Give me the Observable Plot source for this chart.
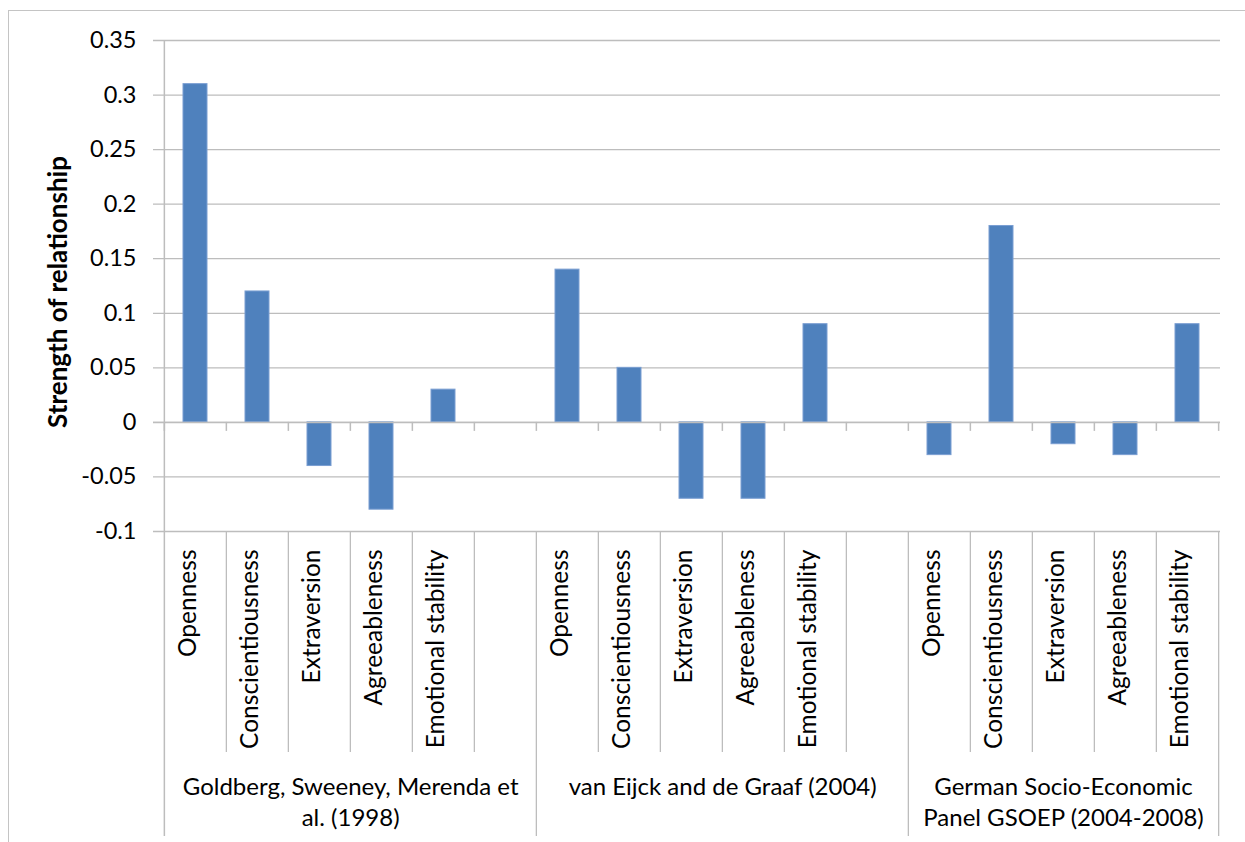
<!DOCTYPE html>
<html>
<head>
<meta charset="utf-8">
<script src="https://cdn.jsdelivr.net/npm/d3@7"></script>
<script src="https://cdn.jsdelivr.net/npm/@observablehq/plot@0.6"></script>
<style>
  html, body { margin: 0; padding: 0; background: #fff; overflow: hidden; }
  #wrap { position: relative; width: 1245px; height: 842px; overflow: hidden; }
  #border { position: absolute; left: 8px; top: 10px; width: 1400px; height: 1000px;
            border-left: 1.5px solid #c4c4c4; border-top: 1.5px solid #c4c4c4; }
  #chart { position: absolute; left: 0; top: 0; }
</style>
</head>
<body>
<div id="wrap"><div id="border"></div><div id="chart"></div></div>
<script>
// ---- data ----
const traits = ["Openness", "Conscientiousness", "Extraversion", "Agreeableness", "Emotional stability"];
const studyLabels = [
  ["Goldberg, Sweeney, Merenda et", "al. (1998)"],
  ["van Eijck and de Graaf (2004)"],
  ["German Socio-Economic", "Panel GSOEP (2004-2008)"]
];
const goldberg = [0.31, 0.12, -0.04, -0.08, 0.03];
const vanEijck = [0.14, 0.05, -0.07, -0.07, 0.09];
const gsoep = [-0.03, 0.18, -0.02, -0.03, 0.09];
const yTicks = [-0.1, -0.05, 0, 0.05, 0.1, 0.15, 0.2, 0.25, 0.3, 0.35];
const yTitle = "Strength of relationship";

// ---- build category slots (each study followed by an empty slot, except the last) ----
const seriesByStudy = [goldberg, vanEijck, gsoep];
const slots = [];
const groups = [];
seriesByStudy.forEach((vals, g) => {
  const start = slots.length;
  traits.forEach((t, i) => slots.push({key: `${g}|${t}`, group: g, trait: t, value: vals[i]}));
  if (g < seriesByStudy.length - 1) slots.push({key: `${g}|`, group: g, trait: "", value: null});
  groups.push({g, start, end: slots.length - 1});
});
const keys = slots.map(d => d.key);

// ---- layout ----
const W = 1245, H = 842;
const ML = 161, MR = 25, MT = 40, MB = 311;
const bw = (W - ML - MR) / keys.length;
const FONT = "Lato, 'Open Sans', sans-serif";
const grid = "#bdbdbd";
const ink = "#000";

// boundaries: left edge of each slot, plus right edge of the last
const leftEdges = slots.map((d, i) => ({key: d.key, i, groupStart: groups.some(g => g.start === i)}));
const innerEdges = leftEdges.filter(d => !d.groupStart);
const groupEdges = leftEdges.filter(d => d.groupStart && d.i > 0);

// group label marks
const groupTextMarks = groups.map(gr => {
  const c = (gr.start + gr.end) / 2;
  const idx = Math.floor(c);
  const off = (c - idx) * bw;
  return Plot.text([gr], {
    x: d => keys[idx],
    text: d => studyLabels[d.g].join("\n"),
    frameAnchor: "bottom",
    dy: 242,
    dx: off,
    lineAnchor: "top",
    lineHeight: 1.27,
    fontSize: 24,
    fill: ink
  });
});

const plot = Plot.plot({
  width: W,
  height: H,
  marginLeft: ML,
  marginRight: MR,
  marginTop: MT,
  marginBottom: MB,
  style: {background: "transparent", fontFamily: FONT, color: ink, overflow: "visible"},
  x: {type: "band", domain: keys, padding: 0, axis: null},
  y: {domain: [-0.1, 0.35], axis: null},
  marks: [
    // horizontal gridlines (with short ticks to the left of the axis)
    Plot.ruleY(yTicks, {stroke: grid, strokeWidth: 1.3, insetLeft: -8}),
    // bars
    Plot.barY(slots.filter(d => d.value != null), {
      x: "key", y: "value", fill: "#4f81bd", stroke: "#7a9ed2", strokeWidth: 1,
      insetLeft: 19, insetRight: 19
    }),
    // zero axis line over bars
    Plot.ruleY([0], {stroke: grid, strokeWidth: 1.5, insetLeft: -8}),
    // tick marks below the zero line at every category boundary
    Plot.ruleX(leftEdges, {x: "key", y1: 0, y2: 0, dx: -bw / 2, insetBottom: -9, stroke: grid, strokeWidth: 1.5}),
    Plot.ruleX([keys[keys.length - 1]], {x: d => d, y1: 0, y2: 0, dx: bw / 2, insetBottom: -9, stroke: grid, strokeWidth: 1.5}),
    // vertical axis line, continuing down through the category area
    Plot.ruleX([keys[0]], {x: d => d, dx: -bw / 2, insetBottom: -305, stroke: grid, strokeWidth: 1.5}),
    // inner category separators
    Plot.ruleX(innerEdges, {x: "key", y1: -0.1, y2: -0.1, dx: -bw / 2, insetBottom: -221, stroke: grid, strokeWidth: 1.3}),
    // group separators
    Plot.ruleX(groupEdges, {x: "key", y1: -0.1, y2: -0.1, dx: -bw / 2, insetBottom: -305, stroke: grid, strokeWidth: 1.3}),
    Plot.ruleX([keys[keys.length - 1]], {x: d => d, y1: -0.1, y2: -0.1, dx: bw / 2, insetBottom: -305, stroke: grid, strokeWidth: 1.3}),
    // y tick labels
    Plot.axisY(yTicks, {tickSize: 0, tickPadding: 25, fontSize: 23.5, tickFormat: d => String(d), label: null, fill: ink}),
    // y title
    Plot.text([yTitle], {frameAnchor: "left", textAnchor: "middle", dx: -103, dy: 6, rotate: -90, fontWeight: "bold", fontSize: 26, fill: ink}),
    // category labels
    Plot.text(slots.filter(d => d.trait), {
      x: "key", text: "trait", rotate: -90, textAnchor: "end", frameAnchor: "bottom",
      dy: 18, fontSize: 24.5, fill: ink
    }),
    ...groupTextMarks
  ]
});
document.getElementById("chart").appendChild(plot);
</script>
</body>
</html>
